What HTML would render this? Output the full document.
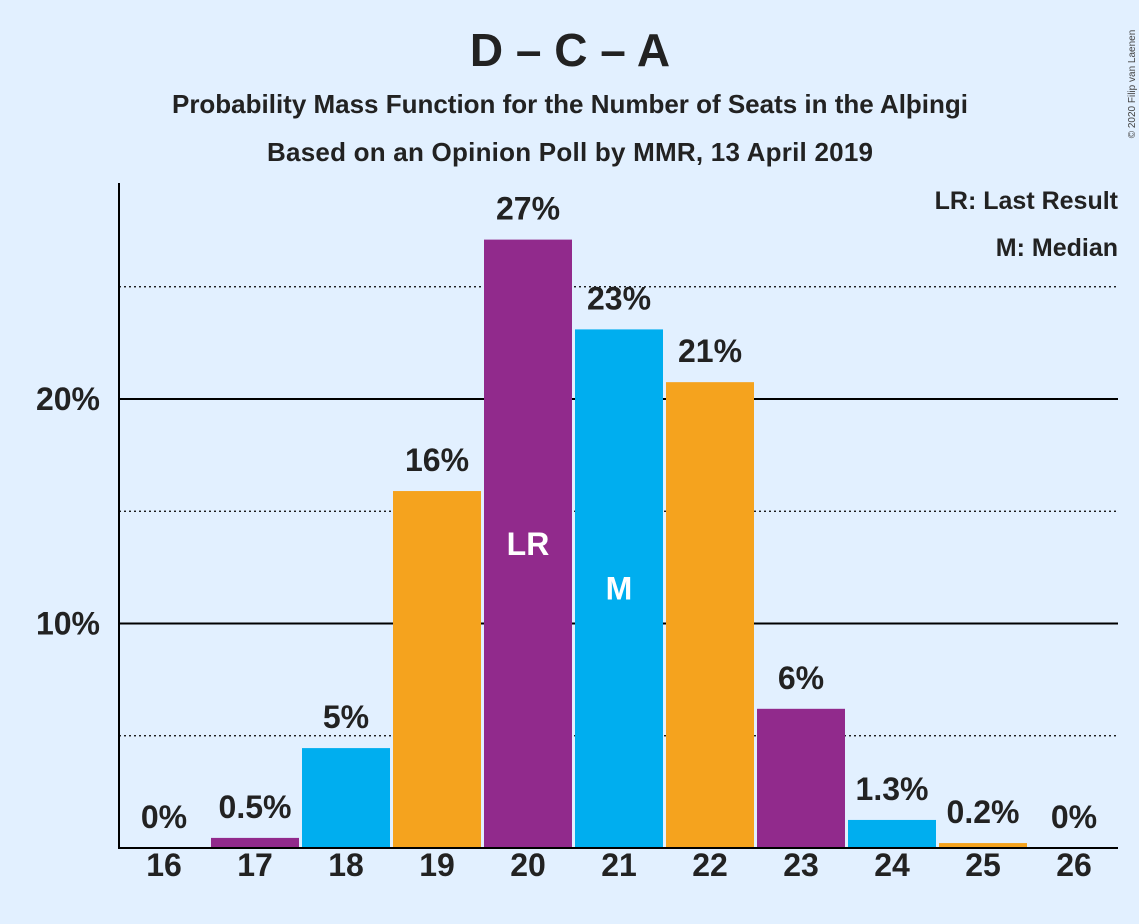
<!DOCTYPE html>
<html><head><meta charset="utf-8"><style>
body{margin:0;background:#E2F0FF;}
svg{display:block;font-family:"Liberation Sans",sans-serif;}
</style></head><body>
<svg id="chart" width="1139" height="924">
<rect width="1139" height="924" fill="#E2F0FF"/>
<text x="570" y="66" text-anchor="middle" font-size="46" font-weight="bold" fill="#222">D – C – A</text>
<text x="570" y="113" text-anchor="middle" font-size="26" font-weight="bold" fill="#222" textLength="796">Probability Mass Function for the Number of Seats in the Alþingi</text>
<text x="570" y="161" text-anchor="middle" font-size="26" font-weight="bold" fill="#222" textLength="606">Based on an Opinion Poll by MMR, 13 April 2019</text>
<text x="1118" y="209" text-anchor="end" font-size="25" font-weight="bold" fill="#222">LR: Last Result</text>
<text x="1118" y="256" text-anchor="end" font-size="25" font-weight="bold" fill="#222">M: Median</text>
<text transform="translate(1135,84) rotate(-90)" text-anchor="middle" font-size="10" fill="#444">© 2020 Filip van Laenen</text>
<g id="grid"></g>
<g id="bars"></g>
<g id="labels"></g>
<line x1="119" y1="183" x2="119" y2="849" stroke="#000" stroke-width="2"/>
<line x1="118" y1="848" x2="1118" y2="848" stroke="#000" stroke-width="2"/>
</svg>
<script>
const seats=[16,17,18,19,20,21,22,23,24,25,26];
const probs=[0,0.45,4.45,15.9,27.1,23.1,20.75,6.2,1.25,0.22,0];
const probLabels=["0%","0.5%","5%","16%","27%","23%","21%","6%","1.3%","0.2%","0%"];
const yTicks=[10,20];
const yTickLabels=["10%","20%"];
const dottedTicks=[5,15,25];
const markers={20:"LR",21:"M"};
const colors=["#912A8C","#00AEEF","#F5A31E"];
const NS="http://www.w3.org/2000/svg";
const y=v=>848-v*22.45;
const x=s=>164+(s-16)*91;
function mk(t,a,p){const e=document.createElementNS(NS,t);for(const k in a)e.setAttribute(k,a[k]);p.appendChild(e);return e;}
const grid=document.getElementById('grid'),bars=document.getElementById('bars'),labels=document.getElementById('labels');
yTicks.forEach((v,i)=>{
 const l=mk('line',{x1:119,x2:1118,y1:y(v),y2:y(v),stroke:'#000','stroke-width':2},grid);
 
 
 const t=mk('text',{x:100,y:y(v)+11,'text-anchor':'end','font-size':32,'font-weight':'bold',fill:'#222'},grid);
 t.textContent=yTickLabels[i];
 
 
});
dottedTicks.forEach(v=>{
 const l=mk('line',{x1:119,x2:1118,y1:y(v),y2:y(v),stroke:'#000','stroke-width':1.2,'stroke-dasharray':'2,3'},grid);
 
 
});
seats.forEach((s,i)=>{
 const col=colors[(s-17+300)%3];
 if(probs[i]>0){
  const r=mk('rect',{x:x(s)-44,y:y(probs[i]),width:88,height:848-y(probs[i]),fill:col},bars);
  
  
 }
 const t=mk('text',{x:x(s),y:y(probs[i])-20,'text-anchor':'middle','font-size':32,'font-weight':'bold',fill:'#222'},labels);
 t.textContent=probLabels[i];
 
 
 const xt=mk('text',{x:x(s),y:876,'text-anchor':'middle','font-size':32,'font-weight':'bold',fill:'#222'},labels);
 xt.textContent=s;
 
 
 if(markers[s]){
  const m=mk('text',{x:x(s),y:(y(probs[i])+848)/2+11,'text-anchor':'middle','font-size':32,'font-weight':'bold',fill:'#fff'},labels);
  m.textContent=markers[s];
  
  
 }
});
</script>
</body></html>
